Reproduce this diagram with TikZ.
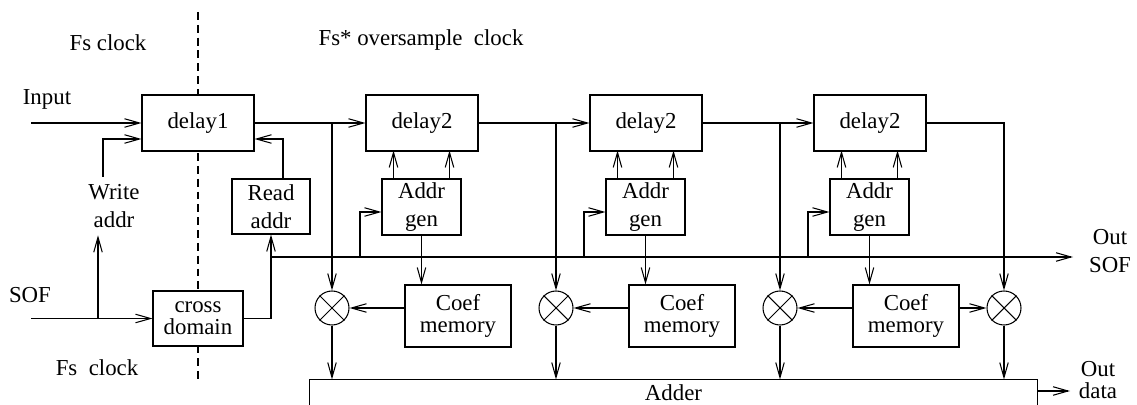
\documentclass[tikz,border=0pt]{standalone}
\usepackage{fontspec}
\setmainfont{Liberation Serif}
\usetikzlibrary{arrows.meta,calc}

\begin{document}
\begin{tikzpicture}[x=0.02cm, y=-0.02cm, line width=0.6pt,
    >={Straight Barb[length=3mm,width=1.7mm]},
    every node/.style={font=\fontsize{13}{16}\selectfont},
    blk/.style={draw, fill=white, inner sep=0pt, align=center},
    tight/.style={font=\fontsize{13}{12.5}\selectfont},
    mult/.style={draw, fill=white, circle, inner sep=0pt, minimum size=0.68cm},
    lbl/.style={align=center, inner sep=0pt}]
    \useasboundingbox (0,0) rectangle (1137,405);

    \draw[dash pattern=on 4.5pt off 2.8pt] (198,12) -- (198,383);

    \node[lbl] (fstop) at (108,43) {Fs clock};
    \node[lbl] (fsbot) at (97,368) {Fs\ \ clock};
    \node[lbl] (fsover) at (421,40) {Fs* oversample\ \ clock};
    \node[lbl] (inlbl) at (47,99) {Input};
    \node[lbl] (soflbl) at (30,295) {SOF};
    \node[lbl, inner ysep=4pt] (waddr) at (114,206) {Write\\addr};
    \node[lbl] (outsof) at (1110,251) {Out\\SOF};
    \node[lbl, font=\fontsize{13}{12.5}\selectfont] (outdata) at (1098,380) {Out\\data};

    \node[blk, minimum width=2.24cm, minimum height=1.12cm] (delay1) at (198,123) {delay1};
    \node[blk, tight, minimum width=1.8cm, minimum height=1.1cm] (cross) at (198,318.5) {cross\\domain};
    \node[blk, minimum width=1.56cm, minimum height=1.1cm] (raddr) at (271,206.5) {Read\\addr};
    \node[inner sep=0pt, minimum width=14.54cm, minimum height=0.5cm] (adder) at (673.5,392.5) {Adder};
    \draw (adder.south west) |- (adder.north east) -- (adder.south east);

    \foreach \i in {0,1,2} {
        \node[blk, minimum width=2.24cm, minimum height=1.12cm] (dly\i) at (422+224*\i,123) {delay2};
        \node[blk, minimum width=1.58cm, minimum height=1.12cm] (agen\i) at (421.5+224*\i,207) {Addr\\gen};
        \node[blk, tight, minimum width=2.12cm, minimum height=1.24cm] (coef\i) at (458+224*\i,316) {Coef\\memory};
    }
    \foreach \i in {0,...,3} {
        \node[mult] (mul\i) at (332+224*\i,308) {};
        \draw (mul\i.north west) -- (mul\i.south east) (mul\i.north east) -- (mul\i.south west);
    }

    \coordinate (in) at (31,123);
    \coordinate (sofin) at (31,318.5);
    \coordinate (wtap) at (98,318.5);
    \coordinate (sofout) at (1073,257);
    \coordinate (dataout) at (1070,391);

    \draw[->] (in) -- (delay1.west);
    \draw[->] (sofin) -- (cross.west);
    \draw[->] (wtap) -- (wtap |- waddr.south);
    \draw[->] ($(waddr.north)+(-11,0)$) |- ($(delay1.west)+(0,16)$);
    \draw[->] (cross.east) -| (raddr.south);
    \draw[->] ($(raddr.north)+(12,0)$) |- ($(delay1.east)+(0,16)$);
    \draw[->] (raddr.south |- sofout) -- (sofout);
    \draw[->] (delay1.east) -- (dly0.west);
    \draw[->] (mul0 |- delay1.east) -- (mul0.north);
    \draw[->] (dly2.east) -| (mul3.north);
    \draw[->] (coef2.east |- mul3.west) -- (mul3.west);
    \draw[->] (mul3.south) -- (mul3 |- adder.north);
    \draw[->] (adder.east |- dataout) -- (dataout);

    \foreach \i in {0,1,2} {
        \coordinate (tap\i) at (360+224*\i,257);
        \draw[->] (tap\i) |- ($(agen\i.west)+(0,5)$);
        \draw[->] ($(agen\i.north)+(-28,0)$) -- ++(0,-28);
        \draw[->] ($(agen\i.north)+(28,0)$) -- ++(0,-28);
        \draw[->] (agen\i.south) -- (agen\i.south |- coef\i.north);
        \draw[->] (coef\i.west |- mul\i.east) -- (mul\i.east);
        \draw[->] (mul\i.south) -- (mul\i |- adder.north);
    }
    \foreach \i in {0,1} {
        \pgfmathtruncatemacro\j{\i+1}
        \draw[->] (dly\i.east) -- (dly\j.west);
        \draw[->] (mul\j |- dly\i.east) -- (mul\j.north);
    }
\end{tikzpicture}
\end{document}
